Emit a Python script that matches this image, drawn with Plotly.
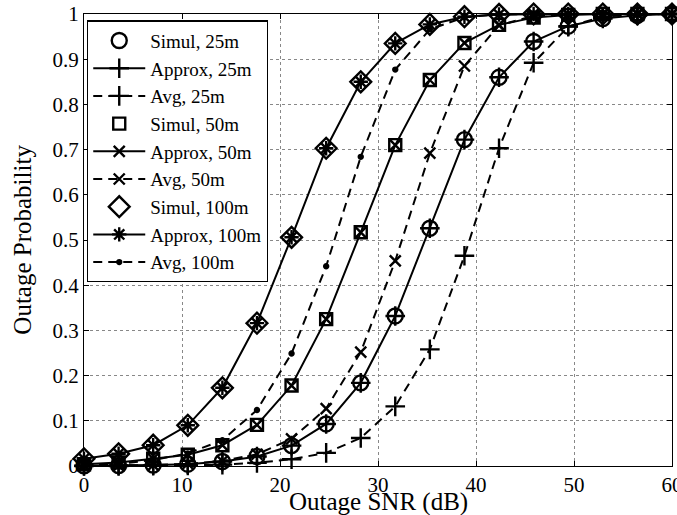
import plotly.graph_objects as go

snr = [0, 3.53, 7.06, 10.59, 14.12, 17.65, 21.18, 24.71, 28.24, 31.76,
       35.29, 38.82, 42.35, 45.88, 49.41, 52.94, 56.47, 60]

simul_25 = [0.0005, 0.001, 0.002, 0.004, 0.01, 0.021, 0.045, 0.093, 0.184, 0.332,
            0.526, 0.722, 0.86, 0.939, 0.973, 0.99, 0.997, 1.0]
approx_25 = [0.0005, 0.001, 0.002, 0.004, 0.01, 0.021, 0.045, 0.093, 0.184, 0.332,
             0.526, 0.722, 0.86, 0.939, 0.973, 0.99, 0.997, 1.0]
avg_25 = [0.0, 0.0, 0.0005, 0.001, 0.003, 0.007, 0.015, 0.029, 0.062, 0.132,
          0.258, 0.465, 0.703, 0.892, 0.972, 0.994, 0.999, 1.0]

simul_50 = [0.004, 0.008, 0.016, 0.025, 0.046, 0.091, 0.178, 0.325, 0.517, 0.71,
            0.854, 0.936, 0.976, 0.992, 0.998, 1.0, 1.0, 1.0]
approx_50 = [0.004, 0.008, 0.016, 0.025, 0.046, 0.091, 0.178, 0.325, 0.517, 0.71,
             0.854, 0.936, 0.976, 0.992, 0.998, 1.0, 1.0, 1.0]
avg_50 = [0.0005, 0.001, 0.002, 0.005, 0.011, 0.026, 0.06, 0.127, 0.252, 0.454,
          0.692, 0.885, 0.975, 0.996, 1.0, 1.0, 1.0, 1.0]

simul_100 = [0.016, 0.027, 0.046, 0.09, 0.173, 0.316, 0.506, 0.703, 0.85, 0.935,
             0.977, 0.994, 0.999, 1.0, 1.0, 1.0, 1.0, 1.0]
approx_100 = [0.016, 0.027, 0.046, 0.09, 0.173, 0.316, 0.506, 0.703, 0.85, 0.935,
              0.977, 0.994, 0.999, 1.0, 1.0, 1.0, 1.0, 1.0]
avg_100 = [0.002, 0.005, 0.013, 0.028, 0.057, 0.124, 0.249, 0.442, 0.684, 0.877,
           0.966, 0.993, 0.999, 1.0, 1.0, 1.0, 1.0, 1.0]

x_ticks = [0, 10, 20, 30, 40, 50, 60]
y_ticks = [0, 0.1, 0.2, 0.3, 0.4, 0.5, 0.6, 0.7, 0.8, 0.9, 1]
y_tick_text = ["0", "0.1", "0.2", "0.3", "0.4", "0.5", "0.6", "0.7", "0.8", "0.9", "1"]
x_title = "Outage SNR (dB)"
y_title = "Outage Probability"

FONT = "Liberation Serif, Times New Roman, serif"
BLACK = "black"

fig = go.Figure()


def simul(name, y, symbol, size):
    fig.add_trace(go.Scatter(
        x=snr, y=y, name=name, mode="markers",
        marker=dict(symbol=symbol, size=size, color=BLACK,
                    line=dict(color=BLACK, width=2.4)),
        cliponaxis=False))


def approx(name, y, symbol, size, dash):
    fig.add_trace(go.Scatter(
        x=snr, y=y, name=name, mode="lines+markers",
        line=dict(color=BLACK, width=2, dash=dash),
        marker=dict(symbol=symbol, size=size, color=BLACK,
                    line=dict(color=BLACK, width=2.4)),
        cliponaxis=False))


approx("Approx, 25m", approx_25, "cross-thin-open", 14, "solid")
approx("Avg, 25m", avg_25, "cross-thin-open", 14, "9px,6px")
approx("Approx, 50m", approx_50, "x-thin-open", 11, "solid")
approx("Avg, 50m", avg_50, "x-thin-open", 11, "9px,6px")
approx("Approx, 100m", approx_100, "asterisk-open", 12, "solid")
approx("Avg, 100m", avg_100, "circle", 4, "9px,6px")
simul("Simul, 25m", simul_25, "circle-open", 15)
simul("Simul, 50m", simul_50, "square-open", 12)
simul("Simul, 100m", simul_100, "diamond-open", 16)

order = ["Simul, 25m", "Approx, 25m", "Avg, 25m", "Simul, 50m", "Approx, 50m",
         "Avg, 50m", "Simul, 100m", "Approx, 100m", "Avg, 100m"]
for tr in fig.data:
    tr.legendrank = order.index(tr.name) + 1

axis_common = dict(
    showline=True, linecolor=BLACK, linewidth=1.3, mirror="ticks",
    ticks="inside", ticklen=5, tickcolor=BLACK, tickwidth=1,
    showgrid=True, gridcolor="#888", griddash="dot", gridwidth=1,
    zeroline=False, ticklabeloverflow="allow", automargin=False,
    tickfont=dict(family=FONT, size=21, color=BLACK),
)

fig.update_xaxes(range=[0, 60], tickvals=x_ticks, **axis_common)
fig.update_yaxes(range=[0, 1], tickvals=y_ticks, ticktext=y_tick_text, **axis_common)

fig.add_annotation(text=x_title, xref="paper", yref="paper", x=0.5, y=-0.079,
                   xanchor="center", yanchor="middle", showarrow=False,
                   font=dict(family=FONT, size=25, color=BLACK))
fig.add_annotation(text=y_title, xref="paper", yref="paper", x=-0.106, y=0.5,
                   xanchor="center", yanchor="middle", showarrow=False, textangle=-90,
                   font=dict(family=FONT, size=25, color=BLACK))

fig.update_layout(
    width=677, height=515,
    margin=dict(l=84, r=5, t=14, b=49),
    paper_bgcolor="white", plot_bgcolor="white",
    font=dict(family=FONT, color=BLACK),
    legend=dict(x=0.005, y=0.986, xanchor="left", yanchor="top",
                bgcolor="white", bordercolor=BLACK, borderwidth=1.3,
                font=dict(family=FONT, size=19, color=BLACK),
                tracegroupgap=0, itemwidth=52, traceorder="normal"),
    showlegend=True,
)

fig.write_html("out.html")
